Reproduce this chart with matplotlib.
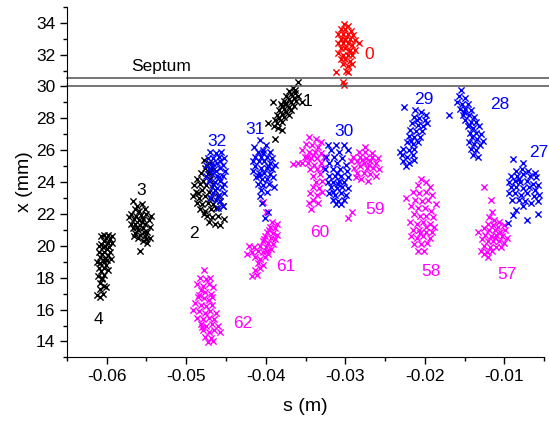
import numpy as np
import matplotlib
matplotlib.use('Agg')
import matplotlib.pyplot as plt
from matplotlib.ticker import MultipleLocator

plt.rcParams['font.family'] = ['Liberation Sans', 'DejaVu Sans']

# point clouds (s in m, x in mm)
pts4 = [
    (-0.0612, 16.9), (-0.0609, 16.8), (-0.0605, 17.0), (-0.0608, 17.3), (-0.0604, 17.5), (-0.0609, 17.7),
    (-0.0606, 17.9), (-0.0611, 18.1), (-0.0603, 18.2), (-0.0607, 18.4), (-0.0610, 18.6), (-0.0604, 18.6),
    (-0.0601, 18.8), (-0.0608, 18.9), (-0.0612, 19.0), (-0.0605, 19.1), (-0.0602, 19.2), (-0.0609, 19.3),
    (-0.0599, 19.4), (-0.0606, 19.5), (-0.0603, 19.6), (-0.0610, 19.6), (-0.0600, 19.8), (-0.0605, 19.9),
    (-0.0597, 19.9), (-0.0602, 20.0), (-0.0607, 20.1), (-0.0599, 20.2), (-0.0604, 20.3), (-0.0596, 20.4),
    (-0.0601, 20.5), (-0.0598, 20.7), (-0.0594, 20.6), (-0.0603, 20.7), (-0.0593, 20.2), (-0.0596, 19.6),
    (-0.0600, 19.1), (-0.0598, 18.5), (-0.0606, 18.0), (-0.0601, 17.4), (-0.0607, 20.6), (-0.0610, 20.0),
    (-0.0595, 19.2), (-0.0604, 19.0),
]
pts3 = [
    (-0.0567, 22.8), (-0.0562, 22.5), (-0.0556, 22.6), (-0.0565, 22.3), (-0.0559, 22.2), (-0.0552, 22.3),
    (-0.0569, 22.0), (-0.0563, 21.9), (-0.0557, 21.95), (-0.0550, 22.0), (-0.0566, 21.7), (-0.0560, 21.6),
    (-0.0554, 21.7), (-0.0547, 21.6), (-0.0570, 21.4), (-0.0564, 21.4), (-0.0558, 21.3), (-0.0552, 21.4),
    (-0.0545, 21.2), (-0.0567, 21.1), (-0.0561, 21.0), (-0.0555, 21.1), (-0.0549, 20.9), (-0.0564, 20.8),
    (-0.0558, 20.7), (-0.0552, 20.6), (-0.0546, 20.5), (-0.0561, 20.5), (-0.0555, 20.3), (-0.0549, 20.2),
    (-0.0558, 19.7), (-0.0572, 21.8), (-0.0544, 21.9), (-0.0556, 21.5), (-0.0562, 21.2), (-0.0553, 20.9),
    (-0.0550, 20.4), (-0.0566, 20.6),
]
pts2 = [
    (-0.0478, 25.4), (-0.0472, 25.2), (-0.0476, 24.9), (-0.0469, 24.8), (-0.0481, 24.6), (-0.0473, 24.5),
    (-0.0486, 24.2), (-0.0479, 24.1), (-0.0470, 24.2), (-0.0490, 23.8), (-0.0483, 23.9), (-0.0475, 23.8),
    (-0.0466, 23.9), (-0.0488, 23.4), (-0.0480, 23.5), (-0.0472, 23.4), (-0.0464, 23.5), (-0.0491, 23.1),
    (-0.0484, 23.0), (-0.0477, 23.1), (-0.0469, 23.0), (-0.0460, 23.1), (-0.0487, 22.7), (-0.0480, 22.6),
    (-0.0473, 22.7), (-0.0466, 22.6), (-0.0457, 22.8), (-0.0483, 22.3), (-0.0476, 22.2), (-0.0469, 22.3),
    (-0.0462, 22.4), (-0.0454, 22.5), (-0.0474, 21.9), (-0.0467, 21.8), (-0.0460, 21.9), (-0.0471, 21.5),
    (-0.0464, 21.4), (-0.0457, 21.3), (-0.0453, 21.7), (-0.0478, 22.0), (-0.0485, 23.3), (-0.0471, 24.6),
]
pts1 = [
    (-0.0360, 30.3), (-0.0366, 29.9), (-0.0371, 29.7), (-0.0363, 29.6), (-0.0368, 29.5), (-0.0374, 29.4),
    (-0.0360, 29.4), (-0.0365, 29.3), (-0.0371, 29.2), (-0.0377, 29.1), (-0.0362, 29.1), (-0.0368, 29.0),
    (-0.0374, 28.9), (-0.0380, 28.8), (-0.0365, 28.8), (-0.0371, 28.7), (-0.0377, 28.6), (-0.0383, 28.5),
    (-0.0368, 28.5), (-0.0374, 28.4), (-0.0380, 28.3), (-0.0386, 28.2), (-0.0371, 28.2), (-0.0377, 28.1),
    (-0.0383, 28.0), (-0.0389, 27.9), (-0.0380, 27.8), (-0.0386, 27.7), (-0.0397, 27.7), (-0.0390, 27.5),
    (-0.0379, 27.3), (-0.0384, 27.4), (-0.0391, 29.05), (-0.0355, 29.0), (-0.0388, 26.7), (-0.0376, 28.9),
    (-0.0363, 29.8), (-0.0381, 28.9),
]
pts62 = [
    (-0.0478, 18.5), (-0.0483, 18.0), (-0.0475, 17.9), (-0.0470, 18.0), (-0.0486, 17.6), (-0.0479, 17.5),
    (-0.0472, 17.6), (-0.0466, 17.4), (-0.0482, 17.2), (-0.0476, 17.1), (-0.0469, 17.0), (-0.0485, 16.8),
    (-0.0478, 16.7), (-0.0471, 16.6), (-0.0489, 16.4), (-0.0482, 16.3), (-0.0475, 16.2), (-0.0467, 16.3),
    (-0.0491, 16.0), (-0.0484, 15.9), (-0.0477, 15.8), (-0.0470, 15.9), (-0.0462, 15.8), (-0.0486, 15.5),
    (-0.0479, 15.4), (-0.0472, 15.5), (-0.0465, 15.4), (-0.0482, 15.1), (-0.0475, 15.0), (-0.0468, 15.1),
    (-0.0460, 15.0), (-0.0479, 14.7), (-0.0472, 14.6), (-0.0465, 14.7), (-0.0457, 14.6), (-0.0476, 14.3),
    (-0.0469, 14.2), (-0.0473, 13.95), (-0.0466, 14.0), (-0.0480, 14.9), (-0.0484, 16.9), (-0.0468, 16.8),
]
pts61 = [
    (-0.0404, 22.75), (-0.0400, 22.1), (-0.0392, 21.5), (-0.0386, 21.4), (-0.0395, 21.2), (-0.0389, 21.1),
    (-0.0398, 20.9), (-0.0391, 20.8), (-0.0386, 20.7), (-0.0401, 20.6), (-0.0394, 20.5), (-0.0388, 20.4),
    (-0.0404, 20.3), (-0.0397, 20.2), (-0.0391, 20.1), (-0.0407, 20.0), (-0.0400, 19.9), (-0.0394, 19.8),
    (-0.0421, 20.0), (-0.0415, 19.9), (-0.0423, 19.5), (-0.0417, 19.6), (-0.0410, 19.7), (-0.0404, 19.6),
    (-0.0397, 19.5), (-0.0413, 19.3), (-0.0407, 19.2), (-0.0401, 19.3), (-0.0410, 18.9), (-0.0404, 18.8),
    (-0.0413, 18.5), (-0.0407, 18.6), (-0.0417, 18.1), (-0.0411, 18.2), (-0.0396, 21.0), (-0.0402, 20.4),
    (-0.0399, 19.7),
]
pts60 = [
    (-0.0345, 26.8), (-0.0337, 26.7), (-0.0330, 26.5), (-0.0350, 26.4), (-0.0342, 26.3), (-0.0334, 26.2),
    (-0.0354, 26.0), (-0.0346, 25.9), (-0.0338, 25.9), (-0.0330, 25.8), (-0.0351, 25.6), (-0.0343, 25.5),
    (-0.0335, 25.5), (-0.0327, 25.6), (-0.0355, 25.2), (-0.0347, 25.2), (-0.0339, 25.1), (-0.0331, 25.2),
    (-0.0366, 25.15), (-0.0359, 25.2), (-0.0344, 24.8), (-0.0336, 24.8), (-0.0328, 24.9), (-0.0340, 24.4),
    (-0.0332, 24.5), (-0.0337, 24.0), (-0.0329, 24.1), (-0.0341, 23.7), (-0.0333, 23.6), (-0.0344, 23.3),
    (-0.0336, 23.2), (-0.0329, 23.4), (-0.0340, 22.9), (-0.0346, 22.7), (-0.0334, 22.7), (-0.0343, 22.3),
    (-0.0341, 25.7), (-0.0348, 25.6),
]
pts59 = [
    (-0.0275, 26.2), (-0.0283, 25.9), (-0.0275, 25.9), (-0.0267, 25.8), (-0.0290, 25.6), (-0.0282, 25.6),
    (-0.0274, 25.5), (-0.0266, 25.6), (-0.0259, 25.5), (-0.0293, 25.3), (-0.0285, 25.3), (-0.0277, 25.2),
    (-0.0269, 25.3), (-0.0261, 25.2), (-0.0289, 24.9), (-0.0281, 25.0), (-0.0273, 24.9), (-0.0265, 24.9),
    (-0.0258, 24.8), (-0.0285, 24.6), (-0.0277, 24.6), (-0.0269, 24.5), (-0.0261, 24.4), (-0.0280, 24.2),
    (-0.0272, 24.1), (-0.0297, 21.75), (-0.0291, 22.1), (-0.0279, 25.4), (-0.0270, 25.1), (-0.0287, 24.3),
]
pts58 = [
    (-0.0205, 24.2), (-0.0198, 24.0), (-0.0209, 23.8), (-0.0194, 23.7), (-0.0215, 23.4), (-0.0207, 23.3),
    (-0.0199, 23.4), (-0.0191, 23.2), (-0.0224, 23.0), (-0.0212, 22.9), (-0.0204, 22.8), (-0.0196, 22.9),
    (-0.0186, 22.6), (-0.0217, 22.5), (-0.0209, 22.4), (-0.0200, 22.4), (-0.0192, 22.2), (-0.0214, 22.0),
    (-0.0206, 21.9), (-0.0198, 21.9), (-0.0190, 21.8), (-0.0218, 21.5), (-0.0210, 21.4), (-0.0202, 21.5),
    (-0.0194, 21.4), (-0.0188, 21.2), (-0.0215, 21.0), (-0.0207, 21.0), (-0.0199, 20.9), (-0.0191, 20.9),
    (-0.0217, 20.6), (-0.0210, 20.5), (-0.0202, 20.6), (-0.0194, 20.5), (-0.0213, 20.1), (-0.0205, 20.1),
    (-0.0197, 20.2), (-0.0209, 19.7), (-0.0201, 19.7), (-0.0206, 20.8), (-0.0198, 21.2),
]
pts57 = [
    (-0.0125, 23.7), (-0.0117, 22.9), (-0.0116, 22.1), (-0.0119, 21.8), (-0.0113, 21.6), (-0.0107, 21.5),
    (-0.0120, 21.4), (-0.0114, 21.3), (-0.0108, 21.2), (-0.0101, 21.3), (-0.0126, 21.1), (-0.0119, 21.0),
    (-0.0112, 21.0), (-0.0105, 20.9), (-0.0099, 21.0), (-0.0133, 20.9), (-0.0124, 20.7), (-0.0117, 20.6),
    (-0.0110, 20.7), (-0.0103, 20.6), (-0.0097, 20.5), (-0.0128, 20.4), (-0.0121, 20.3), (-0.0114, 20.3),
    (-0.0107, 20.3), (-0.0100, 20.2), (-0.0125, 20.0), (-0.0118, 19.9), (-0.0111, 19.9), (-0.0104, 19.9),
    (-0.0129, 19.7), (-0.0122, 19.6), (-0.0115, 19.7), (-0.0126, 19.5), (-0.0120, 19.3), (-0.0112, 20.5),
]
pts32 = [
    (-0.0470, 25.9), (-0.0463, 25.8), (-0.0456, 25.9), (-0.0473, 25.5), (-0.0466, 25.5), (-0.0459, 25.6),
    (-0.0453, 25.5), (-0.0475, 25.1), (-0.0468, 25.2), (-0.0461, 25.2), (-0.0454, 25.1), (-0.0472, 24.8),
    (-0.0465, 24.8), (-0.0458, 24.9), (-0.0451, 24.7), (-0.0475, 24.4), (-0.0468, 24.5), (-0.0461, 24.4),
    (-0.0454, 24.4), (-0.0471, 24.1), (-0.0464, 24.0), (-0.0457, 24.1), (-0.0452, 23.9), (-0.0468, 23.7),
    (-0.0461, 23.6), (-0.0455, 23.7), (-0.0466, 23.3), (-0.0459, 23.2), (-0.0453, 23.3), (-0.0463, 22.9),
    (-0.0457, 22.8), (-0.0460, 22.4), (-0.0454, 22.5), (-0.0470, 23.0), (-0.0467, 25.0), (-0.0462, 24.7),
    (-0.0459, 24.3), (-0.0457, 25.3),
]
pts31 = [
    (-0.0407, 26.65), (-0.0415, 26.2), (-0.0400, 26.3), (-0.0410, 25.9), (-0.0403, 26.0), (-0.0395, 25.9),
    (-0.0413, 25.6), (-0.0406, 25.6), (-0.0399, 25.6), (-0.0392, 25.5), (-0.0416, 25.3), (-0.0409, 25.3),
    (-0.0402, 25.3), (-0.0395, 25.2), (-0.0389, 25.1), (-0.0413, 25.0), (-0.0406, 24.9), (-0.0399, 24.9),
    (-0.0392, 24.8), (-0.0416, 24.7), (-0.0409, 24.6), (-0.0402, 24.6), (-0.0395, 24.5), (-0.0412, 24.3),
    (-0.0405, 24.2), (-0.0398, 24.2), (-0.0391, 24.3), (-0.0410, 23.9), (-0.0403, 23.8), (-0.0396, 23.9),
    (-0.0406, 23.5), (-0.0399, 23.4), (-0.0390, 23.7), (-0.0407, 23.1), (-0.0405, 22.7), (-0.0401, 21.75),
    (-0.0397, 22.15), (-0.0404, 25.8), (-0.0397, 25.0), (-0.0408, 24.4),
]
pts30 = [
    (-0.0322, 26.3), (-0.0312, 26.35), (-0.0301, 26.3), (-0.0318, 26.0), (-0.0308, 25.9), (-0.0296, 26.0),
    (-0.0324, 25.6), (-0.0314, 25.6), (-0.0304, 25.5), (-0.0320, 25.2), (-0.0310, 25.2), (-0.0299, 25.1),
    (-0.0325, 24.8), (-0.0316, 24.8), (-0.0307, 24.8), (-0.0298, 24.7), (-0.0320, 24.4), (-0.0313, 24.4),
    (-0.0305, 24.4), (-0.0297, 24.3), (-0.0322, 24.0), (-0.0315, 24.0), (-0.0308, 24.1), (-0.0301, 24.0),
    (-0.0318, 23.7), (-0.0311, 23.6), (-0.0304, 23.7), (-0.0297, 23.6), (-0.0320, 23.3), (-0.0313, 23.2),
    (-0.0306, 23.3), (-0.0299, 23.2), (-0.0316, 22.9), (-0.0309, 22.8), (-0.0302, 22.9), (-0.0312, 22.6),
    (-0.0305, 22.6), (-0.0309, 23.9), (-0.0310, 24.6), (-0.0315, 23.4),
]
pts29 = [
    (-0.0226, 28.7), (-0.0212, 28.5), (-0.0205, 28.4), (-0.0199, 28.2), (-0.0214, 28.1), (-0.0207, 28.0),
    (-0.0200, 27.9), (-0.0216, 27.7), (-0.0209, 27.6), (-0.0202, 27.5), (-0.0197, 27.7), (-0.0218, 27.3),
    (-0.0211, 27.2), (-0.0204, 27.2), (-0.0220, 26.9), (-0.0213, 26.8), (-0.0206, 26.8), (-0.0222, 26.5),
    (-0.0215, 26.4), (-0.0208, 26.5), (-0.0227, 26.1), (-0.0220, 26.0), (-0.0213, 26.1), (-0.0229, 25.7),
    (-0.0222, 25.6), (-0.0215, 25.7), (-0.0227, 25.3), (-0.0220, 25.2), (-0.0214, 25.4), (-0.0224, 25.0),
    (-0.0231, 25.9), (-0.0210, 27.9), (-0.0217, 26.6),
]
pts28 = [
    (-0.0155, 29.8), (-0.0157, 29.4), (-0.0150, 29.3), (-0.0160, 29.0), (-0.0153, 28.9), (-0.0146, 28.9),
    (-0.0170, 28.2), (-0.0156, 28.6), (-0.0149, 28.6), (-0.0142, 28.5), (-0.0152, 28.2), (-0.0145, 28.2),
    (-0.0138, 28.1), (-0.0149, 27.9), (-0.0142, 27.8), (-0.0135, 27.8), (-0.0146, 27.5), (-0.0139, 27.4),
    (-0.0132, 27.5), (-0.0143, 27.1), (-0.0136, 27.1), (-0.0129, 27.0), (-0.0141, 26.8), (-0.0134, 26.7),
    (-0.0127, 26.6), (-0.0145, 26.5), (-0.0138, 26.4), (-0.0131, 26.3), (-0.0142, 26.1), (-0.0135, 26.0),
    (-0.0139, 25.7), (-0.0133, 25.6), (-0.0144, 27.6), (-0.0151, 28.4),
]
pts27 = [
    (-0.0089, 25.45), (-0.0076, 25.2), (-0.0085, 24.7), (-0.0078, 24.8), (-0.0070, 24.7), (-0.0062, 24.6),
    (-0.0091, 24.4), (-0.0084, 24.4), (-0.0076, 24.5), (-0.0068, 24.4), (-0.0060, 24.3), (-0.0094, 24.0),
    (-0.0087, 24.1), (-0.0080, 24.0), (-0.0072, 24.1), (-0.0064, 23.9), (-0.0057, 23.8), (-0.0092, 23.7),
    (-0.0085, 23.7), (-0.0077, 23.6), (-0.0069, 23.7), (-0.0061, 23.5), (-0.0094, 23.3), (-0.0087, 23.3),
    (-0.0079, 23.2), (-0.0071, 23.3), (-0.0063, 23.1), (-0.0056, 23.2), (-0.0090, 22.9), (-0.0082, 22.9),
    (-0.0074, 22.8), (-0.0066, 22.7), (-0.0058, 22.8), (-0.0085, 22.25), (-0.0089, 21.95), (-0.0095, 21.45),
    (-0.0072, 21.6), (-0.0057, 22.0), (-0.0077, 22.5), (-0.0081, 24.2),
]
pts0 = [
    (-0.0302, 33.9), (-0.0297, 33.8), (-0.0306, 33.6), (-0.0300, 33.6), (-0.0293, 33.5), (-0.0309, 33.3),
    (-0.0303, 33.3), (-0.0297, 33.3), (-0.0290, 33.2), (-0.0306, 33.0), (-0.0300, 33.0), (-0.0294, 33.0),
    (-0.0288, 32.9), (-0.0309, 32.7), (-0.0303, 32.7), (-0.0297, 32.7), (-0.0291, 32.6), (-0.0283, 32.75),
    (-0.0306, 32.4), (-0.0300, 32.4), (-0.0294, 32.3), (-0.0288, 32.3), (-0.0309, 32.1), (-0.0303, 32.0),
    (-0.0297, 32.0), (-0.0291, 32.0), (-0.0306, 31.7), (-0.0300, 31.7), (-0.0294, 31.6), (-0.0303, 31.4),
    (-0.0297, 31.3), (-0.0291, 31.4), (-0.0312, 30.9), (-0.0296, 30.9), (-0.0303, 30.3), (-0.0302, 30.1),
    (-0.0299, 31.0), (-0.0300, 32.9), (-0.0295, 32.2),
]

black_groups = [pts4, pts3, pts2, pts1]
magenta_groups = [pts62, pts61, pts60, pts59, pts58, pts57]
blue_groups = [pts32, pts31, pts30, pts29, pts28, pts27]
red_groups = [pts0]

# cluster labels: text, s, x, colour
labels = [
    ('4', -0.0610, 15.35, 'black'), ('3', -0.0557, 23.45, 'black'), ('2', -0.0490, 20.8, 'black'),
    ('1', -0.0348, 29.05, 'black'), ('0', -0.0270, 32.0, 'red'),
    ('32', -0.0461, 26.55, 'blue'), ('31', -0.0413, 27.3, 'blue'), ('30', -0.0302, 27.2, 'blue'),
    ('29', -0.0201, 29.2, 'blue'), ('28', -0.0106, 28.85, 'blue'), ('27', -0.0057, 25.85, 'blue'),
    ('62', -0.0429, 15.15, '#ff00ff'), ('61', -0.0375, 18.7, '#ff00ff'), ('60', -0.0332, 20.85, '#ff00ff'),
    ('59', -0.0263, 22.25, '#ff00ff'), ('58', -0.0192, 18.4, '#ff00ff'), ('57', -0.0096, 18.2, '#ff00ff'),
]

septum = [30.0, 30.5]

fig = plt.figure(figsize=(5.49, 4.23), dpi=100)
ax = fig.add_axes([0.122, 0.155, 0.869, 0.829])

for groups, col in [(black_groups, 'black'), (magenta_groups, '#ff00ff'),
                    (blue_groups, '#0000ff'), (red_groups, '#ff0000')]:
    for g in groups:
        a = np.array(g)
        ax.scatter(a[:, 0], a[:, 1], marker='x', s=20, linewidths=1.0, color=col)

for y in septum:
    ax.plot([-0.065, -0.0044], [y, y], color='#505050', lw=1.1, clip_on=False)
ax.text(-0.0531, 31.25, 'Septum', fontsize=12.5, ha='center', va='center')

for t, sx, xx, c in labels:
    ax.text(sx, xx, t, color=c, fontsize=12.5, ha='center', va='center')

ax.set_xlim(-0.065, -0.005)
ax.set_ylim(13, 35)
ax.xaxis.set_minor_locator(MultipleLocator(0.005))
ax.yaxis.set_major_locator(MultipleLocator(2))
ax.yaxis.set_minor_locator(MultipleLocator(1))
ax.set_xticks([-0.06, -0.05, -0.04, -0.03, -0.02, -0.01])
ax.set_xticklabels(['-0.06', '-0.05', '-0.04', '-0.03', '-0.02', '-0.01'])
ax.tick_params(which='major', direction='out', length=5, width=1, labelsize=12.5)
ax.tick_params(which='minor', direction='out', length=3, width=1)
ax.spines['top'].set_visible(False)
ax.spines['right'].set_visible(False)
ax.set_xlabel('s (m)', fontsize=14, labelpad=10)
ax.set_ylabel('x (mm)', fontsize=14, labelpad=2)

fig.savefig('out.png', dpi=100)
